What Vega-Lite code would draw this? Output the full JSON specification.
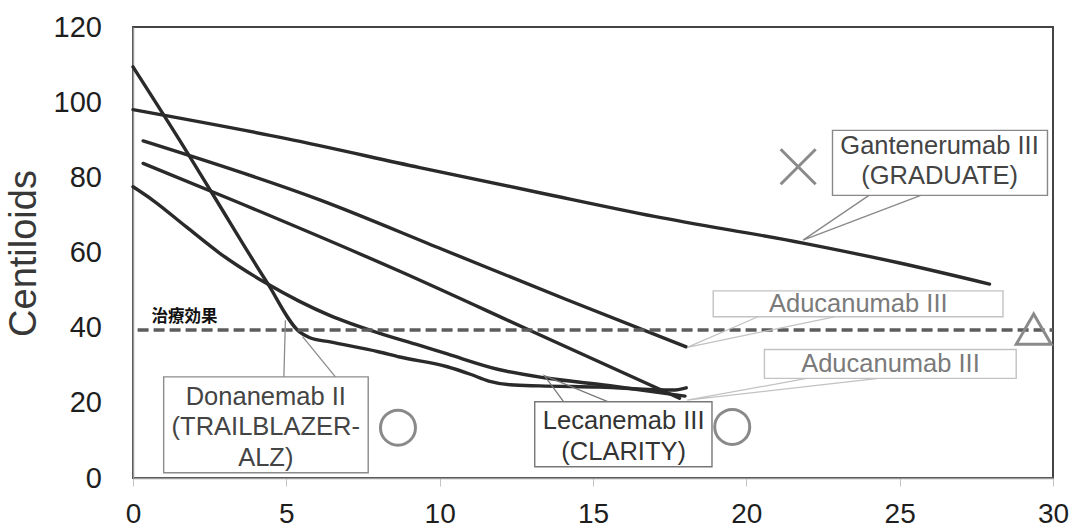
{
  "$schema": "https://vega.github.io/schema/vega-lite/v6.json",
  "width": 920,
  "height": 451,
  "autosize": {"type": "none"},
  "padding": {"left": 133, "top": 27, "right": 20, "bottom": 53},
  "background": "white",
  "config": {
    "font": "Liberation Sans",
    "view": {"stroke": "#444444", "strokeWidth": 2},
    "axisX": {
      "grid": false, "domainColor": "#9a9a9a", "domainWidth": 1.5,
      "tickColor": "#c4c4c4", "tickSize": 8, "tickWidth": 1,
      "labelFontSize": 28, "labelColor": "#1e1e1e", "labelPadding": 14, "labelFlush": false
    },
    "axisY": {
      "grid": false, "domainColor": "#9a9a9a", "domainWidth": 1.5, "ticks": false,
      "labelFontSize": 29, "labelColor": "#1e1e1e", "labelPadding": 31.6, "labelFlush": false,
      "titleFontSize": 38, "titleFontWeight": "normal", "titleColor": "#383838",
      "titleAngle": -90, "titleX": -98, "titleY": 226, "titleBaseline": "alphabetic", "titleAlign": "center"
    }
  },
  "datasets": {
    "curves": [
      {"trial": "Gantenerumab III (GRADUATE)", "month": 0, "centiloid": 98.0},
      {"trial": "Gantenerumab III (GRADUATE)", "month": 5, "centiloid": 90.3},
      {"trial": "Gantenerumab III (GRADUATE)", "month": 9.35, "centiloid": 82.6},
      {"trial": "Gantenerumab III (GRADUATE)", "month": 13.26, "centiloid": 75.9},
      {"trial": "Gantenerumab III (GRADUATE)", "month": 17, "centiloid": 69.6},
      {"trial": "Gantenerumab III (GRADUATE)", "month": 21.85, "centiloid": 62.5},
      {"trial": "Gantenerumab III (GRADUATE)", "month": 25, "centiloid": 57.2},
      {"trial": "Gantenerumab III (GRADUATE)", "month": 27.93, "centiloid": 51.6},
      {"trial": "Donanemab II (TRAILBLAZER-ALZ)", "month": 0, "centiloid": 109.4},
      {"trial": "Donanemab II (TRAILBLAZER-ALZ)", "month": 1.74, "centiloid": 87.0},
      {"trial": "Donanemab II (TRAILBLAZER-ALZ)", "month": 2.72, "centiloid": 73.9},
      {"trial": "Donanemab II (TRAILBLAZER-ALZ)", "month": 4.35, "centiloid": 52.3},
      {"trial": "Donanemab II (TRAILBLAZER-ALZ)", "month": 5.43, "centiloid": 38.9},
      {"trial": "Donanemab II (TRAILBLAZER-ALZ)", "month": 5.75, "centiloid": 37.4},
      {"trial": "Donanemab II (TRAILBLAZER-ALZ)", "month": 6.43, "centiloid": 36.2},
      {"trial": "Donanemab II (TRAILBLAZER-ALZ)", "month": 8.0, "centiloid": 33.6},
      {"trial": "Donanemab II (TRAILBLAZER-ALZ)", "month": 8.7, "centiloid": 32.2},
      {"trial": "Donanemab II (TRAILBLAZER-ALZ)", "month": 10.25, "centiloid": 29.6},
      {"trial": "Donanemab II (TRAILBLAZER-ALZ)", "month": 11.0, "centiloid": 27.6},
      {"trial": "Donanemab II (TRAILBLAZER-ALZ)", "month": 11.6, "centiloid": 25.8},
      {"trial": "Donanemab II (TRAILBLAZER-ALZ)", "month": 12.3, "centiloid": 24.8},
      {"trial": "Donanemab II (TRAILBLAZER-ALZ)", "month": 13.26, "centiloid": 24.5},
      {"trial": "Donanemab II (TRAILBLAZER-ALZ)", "month": 15.2, "centiloid": 24.2},
      {"trial": "Donanemab II (TRAILBLAZER-ALZ)", "month": 17.6, "centiloid": 23.4},
      {"trial": "Donanemab II (TRAILBLAZER-ALZ)", "month": 18.04, "centiloid": 24.0},
      {"trial": "Lecanemab III (CLARITY)", "month": 0, "centiloid": 77.5},
      {"trial": "Lecanemab III (CLARITY)", "month": 0.65, "centiloid": 73.9},
      {"trial": "Lecanemab III (CLARITY)", "month": 1.74, "centiloid": 66.8},
      {"trial": "Lecanemab III (CLARITY)", "month": 2.83, "centiloid": 59.8},
      {"trial": "Lecanemab III (CLARITY)", "month": 4.35, "centiloid": 51.8},
      {"trial": "Lecanemab III (CLARITY)", "month": 5.43, "centiloid": 47.0},
      {"trial": "Lecanemab III (CLARITY)", "month": 6.43, "centiloid": 43.2},
      {"trial": "Lecanemab III (CLARITY)", "month": 8.0, "centiloid": 38.6},
      {"trial": "Lecanemab III (CLARITY)", "month": 9.35, "centiloid": 35.3},
      {"trial": "Lecanemab III (CLARITY)", "month": 10.25, "centiloid": 33.0},
      {"trial": "Lecanemab III (CLARITY)", "month": 11.96, "centiloid": 28.8},
      {"trial": "Lecanemab III (CLARITY)", "month": 13.48, "centiloid": 26.6},
      {"trial": "Lecanemab III (CLARITY)", "month": 15.5, "centiloid": 24.6},
      {"trial": "Lecanemab III (CLARITY)", "month": 18.0, "centiloid": 21.8},
      {"trial": "Aducanumab III (a)", "month": 0.33, "centiloid": 89.7},
      {"trial": "Aducanumab III (a)", "month": 6.09, "centiloid": 74.0},
      {"trial": "Aducanumab III (a)", "month": 10.1, "centiloid": 60.8},
      {"trial": "Aducanumab III (a)", "month": 14.13, "centiloid": 47.5},
      {"trial": "Aducanumab III (a)", "month": 18.04, "centiloid": 34.9},
      {"trial": "Aducanumab III (b)", "month": 0.33, "centiloid": 83.7},
      {"trial": "Aducanumab III (b)", "month": 3.26, "centiloid": 73.9},
      {"trial": "Aducanumab III (b)", "month": 8.7, "centiloid": 55.0},
      {"trial": "Aducanumab III (b)", "month": 13.04, "centiloid": 38.9},
      {"trial": "Aducanumab III (b)", "month": 17.82, "centiloid": 21.2}
    ],
    "callouts": [
      {"trial": "Gantenerumab", "seg": "G", "k": 1, "month": 24.0, "centiloid": 75.2},
      {"trial": "Gantenerumab", "seg": "G", "k": 2, "month": 21.85, "centiloid": 63.3},
      {"trial": "Gantenerumab", "seg": "G", "k": 3, "month": 25.69, "centiloid": 75.2},
      {"trial": "Aducanumab a", "seg": "A1", "k": 1, "month": 20.38, "centiloid": 42.9},
      {"trial": "Aducanumab a", "seg": "A1", "k": 2, "month": 18.07, "centiloid": 34.75},
      {"trial": "Aducanumab a", "seg": "A1", "k": 3, "month": 22.87, "centiloid": 42.9},
      {"trial": "Aducanumab b", "seg": "A2", "k": 1, "month": 21.97, "centiloid": 26.5},
      {"trial": "Aducanumab b", "seg": "A2", "k": 2, "month": 18.07, "centiloid": 20.7},
      {"trial": "Aducanumab b", "seg": "A2", "k": 3, "month": 24.3, "centiloid": 26.5},
      {"trial": "Lecanemab", "seg": "L", "k": 1, "month": 14.04, "centiloid": 20.3},
      {"trial": "Lecanemab", "seg": "L", "k": 2, "month": 13.42, "centiloid": 27.2},
      {"trial": "Lecanemab", "seg": "L", "k": 3, "month": 15.48, "centiloid": 20.3},
      {"trial": "Donanemab", "seg": "D1", "k": 1, "month": 4.92, "centiloid": 26.9},
      {"trial": "Donanemab", "seg": "D1", "k": 2, "month": 4.97, "centiloid": 42.0},
      {"trial": "Donanemab", "seg": "D2", "k": 1, "month": 6.6, "centiloid": 26.9},
      {"trial": "Donanemab", "seg": "D2", "k": 2, "month": 5.53, "centiloid": 37.6}
    ],
    "boxes": [
      {"trial": "Gantenerumab", "month": 22.81, "month_end": 29.82, "centiloid": 75.2, "centiloid_end": 92.5},
      {"trial": "Aducanumab a", "month": 18.92, "month_end": 28.37, "centiloid": 42.9, "centiloid_end": 49.8},
      {"trial": "Aducanumab b", "month": 20.59, "month_end": 28.8, "centiloid": 26.5, "centiloid_end": 34.2},
      {"trial": "Lecanemab", "month": 13.1, "month_end": 18.88, "centiloid": 3.0, "centiloid_end": 20.3},
      {"trial": "Donanemab", "month": 1.0, "month_end": 7.67, "centiloid": 1.4, "centiloid_end": 26.9}
    ],
    "labels": [
      {"trial": "Gantenerumab", "text": "Gantenerumab III\n(GRADUATE)", "month": 26.3, "centiloid": 88.4},
      {"trial": "Aducanumab a", "text": "Aducanumab III", "month": 23.65, "centiloid": 46.4},
      {"trial": "Aducanumab b", "text": "Aducanumab III", "month": 24.7, "centiloid": 30.2},
      {"trial": "Lecanemab", "text": "Lecanemab III\n(CLARITY)", "month": 16.0, "centiloid": 15.1},
      {"trial": "Donanemab", "text": "Donanemab II\n(TRAILBLAZER-\nALZ)", "month": 4.33, "centiloid": 21.6}
    ],
    "results": [
      {"trial": "Gantenerumab", "outcome": "negative", "month": 21.69, "centiloid": 82.8},
      {"trial": "Donanemab", "outcome": "positive", "month": 8.64, "centiloid": 13.4},
      {"trial": "Lecanemab", "outcome": "positive", "month": 19.54, "centiloid": 13.6},
      {"trial": "Aducanumab", "outcome": "mixed", "month": 29.37, "centiloid": 39.6}
    ],
    "threshold": [
      {"label": "治療効果", "centiloid": 39.4, "month": 0.15, "month_end": 30, "label_month": 0.6, "label_centiloid": 42.9}
    ]
  },
  "layer": [
    {
      "data": {"name": "curves"},
      "mark": {"type": "line", "color": "#2a2a2a", "strokeWidth": 3.4, "strokeJoin": "round", "strokeCap": "round", "interpolate": "monotone"},
      "encoding": {
        "x": {"field": "month", "type": "quantitative", "title": null,
              "scale": {"domain": [0, 30], "nice": false},
              "axis": {"values": [0, 5, 10, 15, 20, 25, 30]}},
        "y": {"field": "centiloid", "type": "quantitative", "title": "Centiloids",
              "scale": {"domain": [0, 120], "nice": false},
              "axis": {"values": [0, 20, 40, 60, 80, 100, 120]}},
        "detail": {"field": "trial"},
        "order": {"field": "month"}
      }
    },
    {
      "data": {"name": "threshold"},
      "mark": {"type": "rule", "color": "#5c5c5c", "strokeWidth": 3.5, "strokeDash": [11, 5]},
      "encoding": {
        "x": {"field": "month", "type": "quantitative", "title": null},
        "x2": {"field": "month_end"},
        "y": {"field": "centiloid", "type": "quantitative", "title": "Centiloids"}
      }
    },
    {
      "data": {"name": "callouts"},
      "mark": {"type": "line", "strokeWidth": 1.3},
      "encoding": {
        "x": {"field": "month", "type": "quantitative", "title": null},
        "y": {"field": "centiloid", "type": "quantitative", "title": "Centiloids"},
        "detail": {"field": "seg"},
        "order": {"field": "k"},
        "stroke": {"field": "trial", "type": "nominal", "legend": null,
                   "scale": {"domain": ["Gantenerumab", "Aducanumab a", "Aducanumab b", "Lecanemab", "Donanemab"],
                             "range": ["#888888", "#c2c2c2", "#c2c2c2", "#777777", "#8c8c8c"]}}
      }
    },
    {
      "data": {"name": "boxes"},
      "mark": {"type": "rect", "fill": "white", "strokeWidth": 1.4},
      "encoding": {
        "x": {"field": "month", "type": "quantitative", "title": null},
        "x2": {"field": "month_end"},
        "y": {"field": "centiloid", "type": "quantitative", "title": "Centiloids"},
        "y2": {"field": "centiloid_end"},
        "stroke": {"field": "trial", "type": "nominal", "legend": null}
      }
    },
    {
      "data": {"name": "labels"},
      "mark": {"type": "text", "fontSize": 25.5, "lineHeight": 30.5, "align": "center", "baseline": "middle", "lineBreak": "\n"},
      "encoding": {
        "x": {"field": "month", "type": "quantitative", "title": null},
        "y": {"field": "centiloid", "type": "quantitative", "title": "Centiloids"},
        "text": {"field": "text"},
        "color": {"field": "trial", "type": "nominal", "legend": null,
                  "scale": {"domain": ["Gantenerumab", "Aducanumab a", "Aducanumab b", "Lecanemab", "Donanemab"],
                            "range": ["#444444", "#7a7a7a", "#7a7a7a", "#333333", "#444444"]}}
      }
    },
    {
      "data": {"name": "results"},
      "mark": {"type": "point", "filled": false, "color": "#8a8a8a", "strokeWidth": 3, "opacity": 1},
      "encoding": {
        "x": {"field": "month", "type": "quantitative", "title": null},
        "y": {"field": "centiloid", "type": "quantitative", "title": "Centiloids"},
        "shape": {"field": "outcome", "type": "nominal", "legend": null,
                  "scale": {"domain": ["positive", "mixed", "negative"],
                            "range": ["circle", "triangle-up", "M-1,-1L1,1M-1,1L1,-1"]}},
        "size": {"field": "outcome", "type": "nominal", "legend": null,
                 "scale": {"domain": ["positive", "mixed", "negative"], "range": [1225, 1225, 650]}}
      }
    },
    {
      "data": {"name": "threshold"},
      "mark": {"type": "text", "font": "Noto Sans CJK JP", "fontWeight": "bold", "fontSize": 16.5, "align": "left", "baseline": "middle", "color": "#111111"},
      "encoding": {
        "x": {"field": "label_month", "type": "quantitative", "title": null},
        "y": {"field": "label_centiloid", "type": "quantitative", "title": "Centiloids"},
        "text": {"field": "label"}
      }
    }
  ]
}
